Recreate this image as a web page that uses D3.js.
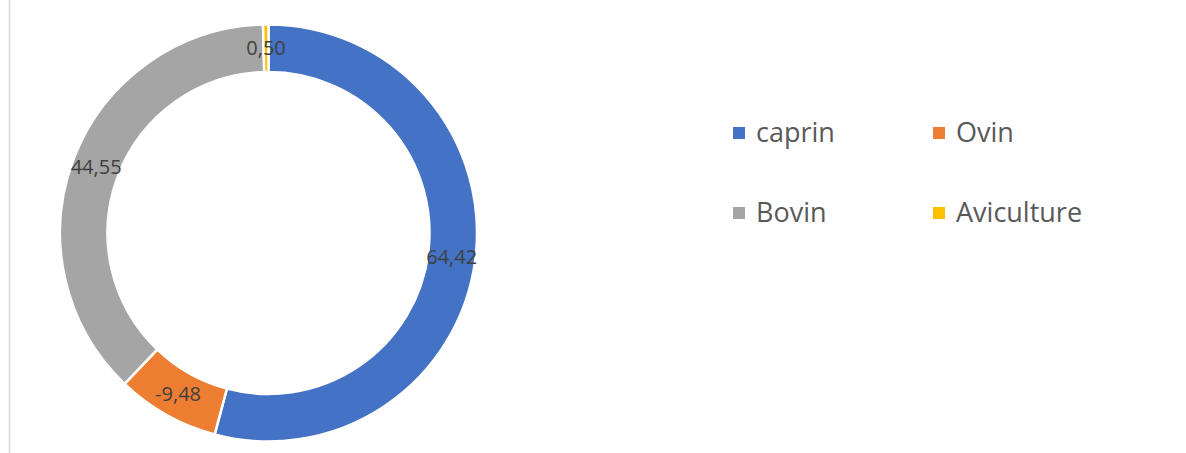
<!DOCTYPE html>
<html>
<head>
<meta charset="utf-8">
<script src="https://cdn.jsdelivr.net/npm/d3@7"></script>
<style>
  body { margin: 0; background: #fff; }
  text { font-family: "Open Sans", "Liberation Sans", sans-serif; }
</style>
</head>
<body>
<script>
const categories = ["caprin", "Ovin", "Bovin", "Aviculture"]
const values = [64.42, -9.48, 44.55, 0.50]
const labels = ["64,42", "-9,48", "44,55", "0,50"]
const colors = ["#4472C4", "#ED7D31", "#A5A5A5", "#FFC000"]

const width = 1186, height = 453
const cx = 268.5, cy = 233
const outerR = 208.5, innerR = 161

let svg = d3.select("body")
    .append("svg")
    .attr("width", width)
    .attr("height", height)

// left frame line
svg.append("line")
    .attr("x1", 9.5).attr("x2", 9.5)
    .attr("y1", 0).attr("y2", height)
    .attr("stroke", "#d9d9d9")
    .attr("stroke-width", 1.5)

let pie = d3.pie()
    .sort(null)
    .value(d => Math.abs(d))

let arc = d3.arc()
    .innerRadius(innerR)
    .outerRadius(outerR)

let arcs = pie(values)

let g = svg.append("g")
    .attr("transform", `translate(${cx},${cy})`)

g.selectAll("path")
    .data(arcs)
    .enter()
    .append("path")
    .attr("d", arc)
    .attr("fill", (d, i) => colors[i])
    .attr("stroke", "#fff")
    .attr("stroke-width", 2.5)

g.selectAll("text.lbl")
    .data(arcs)
    .enter()
    .append("text")
    .attr("class", "lbl")
    .attr("transform", d => `translate(${arc.centroid(d)})`)
    .attr("text-anchor", "middle")
    .attr("dy", "0.35em")
    .attr("font-size", 20)
    .attr("fill", "#404040")
    .text((d, i) => labels[i])

// legend 2x2
let legend = svg.append("g")
let lx = d3.scalePoint().domain([0, 1]).range([733, 933])
let ly = d3.scalePoint().domain([0, 1]).range([133, 213])

let items = legend.selectAll("g")
    .data(categories)
    .enter()
    .append("g")
    .attr("transform", (d, i) => `translate(${lx(i % 2)},${ly(Math.floor(i / 2))})`)

items.append("rect")
    .attr("x", 0).attr("y", -6)
    .attr("width", 12).attr("height", 12)
    .attr("fill", (d, i) => colors[i])

items.append("text")
    .attr("x", 23)
    .attr("dy", "0.35em")
    .attr("font-size", 27)
    .attr("fill", "#595959")
    .text(d => d)
</script>
</body>
</html>
